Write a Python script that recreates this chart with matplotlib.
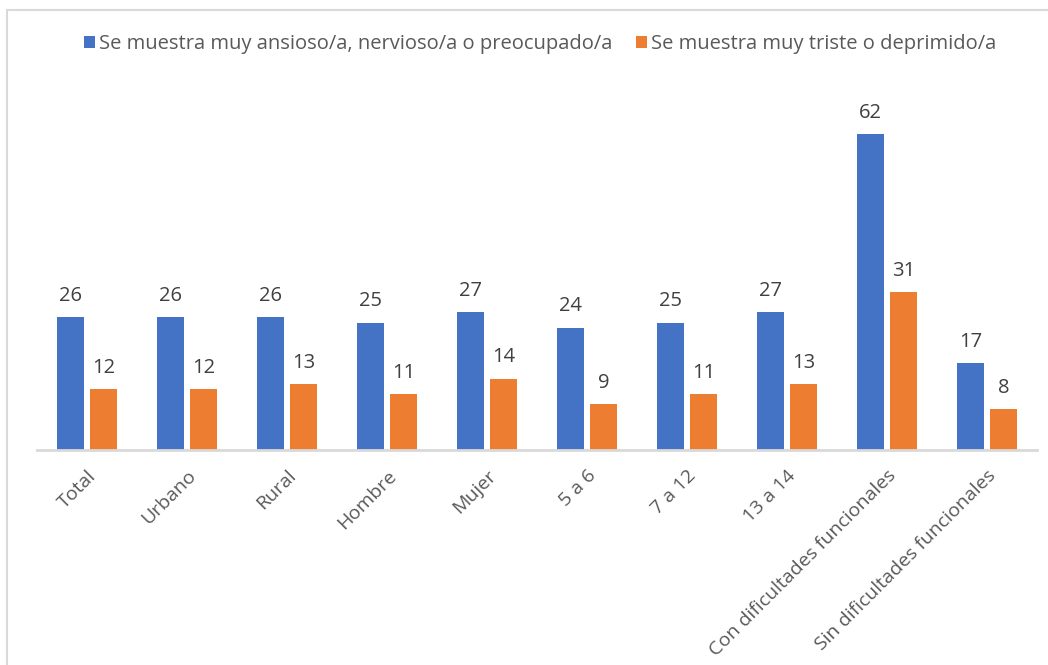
import matplotlib
matplotlib.use("Agg")
import matplotlib.pyplot as plt
import matplotlib.patches as patches
import numpy as np

categories = ["Total", "Urbano", "Rural", "Hombre", "Mujer", "5 a 6", "7 a 12",
              "13 a 14", "Con dificultades funcionales", "Sin dificultades funcionales"]
ansioso = [26, 26, 26, 25, 27, 24, 25, 27, 62, 17]
triste = [12, 12, 13, 11, 14, 9, 11, 13, 31, 8]
series_names = ["Se muestra muy ansioso/a, nervioso/a o preocupado/a",
                "Se muestra muy triste o deprimido/a"]

plt.rcParams['font.family'] = ['Open Sans', 'DejaVu Sans']

fig = plt.figure(figsize=(10.48, 6.65), dpi=100)
ax = fig.add_axes([37 / 1048, 215 / 665, 1000 / 1048, 357 / 665])

x = np.arange(len(categories))
w = 0.27
b1 = ax.bar(x - 0.165, ansioso, w, color="#4472C4", label=series_names[0])
b2 = ax.bar(x + 0.165, triste, w, color="#ED7D31", label=series_names[1])

for bars, vals in [(b1, ansioso), (b2, triste)]:
    for rect, v in zip(bars, vals):
        ax.annotate(str(v), (rect.get_x() + rect.get_width() / 2, rect.get_height()),
                    xytext=(0, 8), textcoords="offset points", ha="center", va="bottom",
                    fontsize=14.5, color="#404040")

ax.set_xlim(-0.5, 9.5)
ax.set_ylim(0, 70)
ax.set_yticks([])
ax.set_xticks(x)
ax.set_xticklabels(categories, rotation=45, ha="right", rotation_mode="anchor",
                   fontsize=14, color="#595959")
ax.tick_params(axis="x", length=0, pad=12)
for s in ["top", "right", "left"]:
    ax.spines[s].set_visible(False)
ax.spines["bottom"].set_color("#d9d9d9")
ax.spines["bottom"].set_linewidth(2)

fig.legend(handles=[b1, b2], loc="center", bbox_to_anchor=(540 / 1048, 1 - 44 / 665),
           ncol=2, frameon=False, fontsize=14.5, labelcolor="#595959",
           handlelength=0.55, handleheight=0.55, handletextpad=0.2, columnspacing=1.2)

border = patches.Rectangle((7 / 1048, -0.1), 1.2, 655 / 665 + 0.1, transform=fig.transFigure,
                           fill=False, edgecolor="#d9d9d9", linewidth=1.5)
fig.patches.append(border)

fig.savefig("out.png", dpi=100)
